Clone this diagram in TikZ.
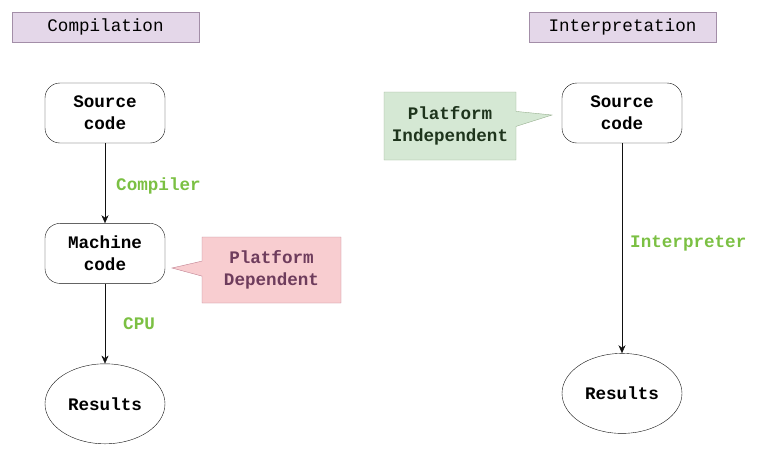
\documentclass[tikz,border=0pt]{standalone}
\usepackage{fontspec}
\setmonofont{Liberation Mono}
\usetikzlibrary{positioning,arrows.meta,shapes.geometric,shapes.callouts}
\usepackage{xcolor}
\definecolor{titleFill}{HTML}{E4D7E9}
\definecolor{titleLine}{HTML}{A38EA8}
\definecolor{depFill}{HTML}{F8CDD0}
\definecolor{depLine}{HTML}{C08090}
\definecolor{depInk}{HTML}{6E3C5C}
\definecolor{indFill}{HTML}{D5E8D4}
\definecolor{indLine}{HTML}{98B090}
\definecolor{indInk}{HTML}{1E341C}
\definecolor{stepGreen}{HTML}{7BC043}
\definecolor{ink}{HTML}{111111}

\tikzset{
  titlebox/.style={draw=titleLine, fill=titleFill, minimum width=187pt, minimum height=30pt, inner sep=0pt},
  codebox/.style={draw=ink, rounded corners=15pt, minimum width=120pt, minimum height=60pt, inner sep=0pt, align=center, font=\ttfamily\bfseries\fontsize{17.6}{22}\selectfont},
  resnode/.style={draw=ink, ellipse, minimum width=120pt, minimum height=80pt, inner sep=0pt, font=\ttfamily\bfseries\fontsize{17.6}{22}\selectfont},
  steplabel/.style={inner sep=0pt, text=stepGreen, font=\ttfamily\bfseries\fontsize{17.6}{22}\selectfont},
  notebox/.style={rectangle callout, callout pointer width=15pt, inner sep=0pt, align=center, font=\ttfamily\bfseries\fontsize{17.6}{22}\selectfont}
}

\begin{document}
\begin{tikzpicture}[x=1pt, y=-1pt, font=\ttfamily\fontsize{17.6}{22}\selectfont, >={Stealth[length=8pt,width=7pt]}]
\useasboundingbox (0,0) rectangle (760,464);

% compilation side
\node[titlebox] (comp) at (105.5,27) {Compilation};
\node[codebox] (src1) at (105,113) {Source\\code};
\node[codebox, below=80pt of src1] (mach) {Machine\\code};
\node[resnode, below=80pt of mach] (res1) {Results};
\draw[->, ink] (src1) -- node[steplabel, right=11pt, yshift=-3pt] {Compiler} (mach);
\draw[->, ink] (mach) -- node[steplabel, right=18pt] {CPU} (res1);
\coordinate (tipdep) at (172,268);
\node[notebox, draw=depLine, fill=depFill, text=depInk, minimum width=139pt, minimum height=66pt,
  callout absolute pointer={(tipdep)}] (pdep) at (271.5,270) {Platform\\Dependent};

% interpretation side
\node[titlebox] (interp) at (622.5,27) {Interpretation};
\node[codebox] (src2) at (622,113) {Source\\code};
\node[resnode, below=210pt of src2] (res2) {Results};
\draw[->, ink] (src2) -- node[steplabel, right=8pt, yshift=5pt] {Interpreter} (res2);
\coordinate (tipind) at (552,115);
\node[notebox, draw=indLine, fill=indFill, text=indInk, minimum width=132pt, minimum height=68pt,
  callout absolute pointer={(tipind)}] (pind) at (450,126) {Platform\\Independent};
\end{tikzpicture}
\end{document}
